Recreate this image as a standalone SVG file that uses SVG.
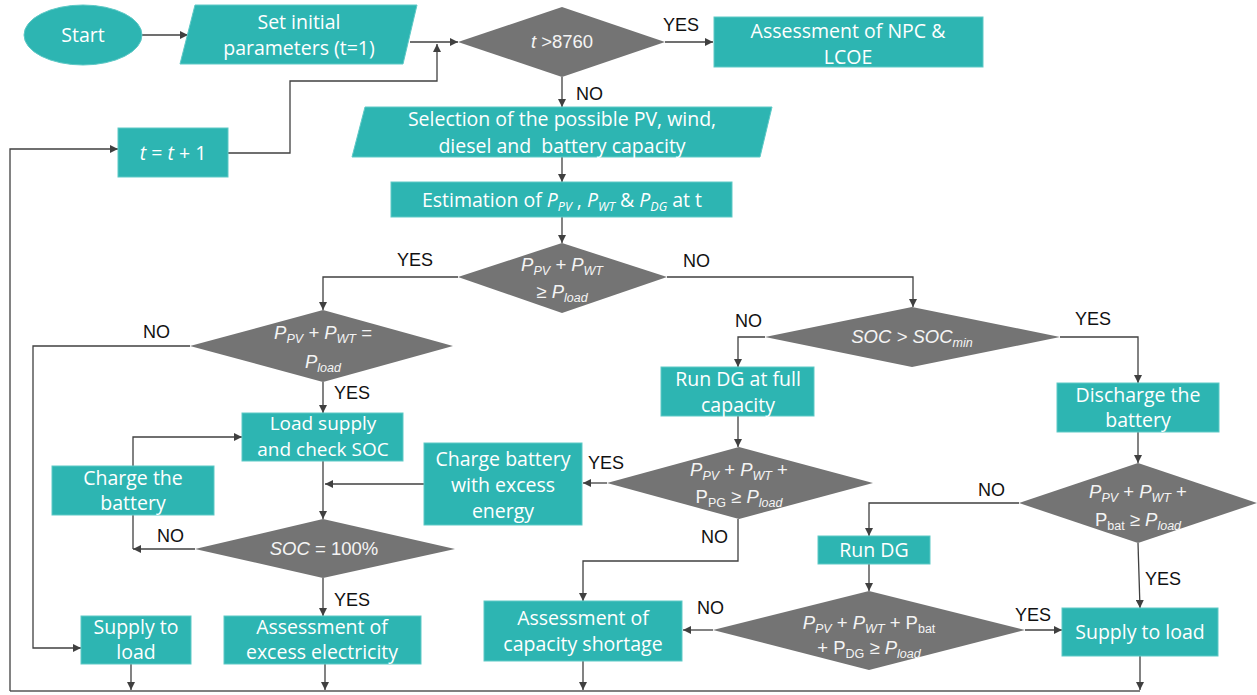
<svg xmlns="http://www.w3.org/2000/svg" width="1257" height="695" viewBox="0 0 1257 695">
<style>
.box{fill:#2db5b2;stroke:#5ec9c6;stroke-width:1}
.dia{fill:#747474}
.bt{font-family:"Open Sans","Liberation Sans",sans-serif;font-size:19.5px;fill:#fff;text-anchor:middle}
.dt{font-family:"Liberation Sans",Arial,sans-serif;font-size:18.5px;fill:#f4f4f4;text-anchor:middle}
.lb{font-family:"Liberation Sans",Arial,sans-serif;font-size:18px;fill:#111}
.i{font-style:italic}
.s{font-size:12.5px}
.c{fill:none;stroke:#404040;stroke-width:1.3}
.a{marker-end:url(#arr)}
.bl{fill:none;stroke:#808080;stroke-width:2}
</style>
<defs>
<marker id="arr" viewBox="0 0 10 10" refX="10" refY="5" markerWidth="9" markerHeight="8" markerUnits="userSpaceOnUse" orient="auto">
<path d="M0,0 L10,5 L0,10 z" fill="#404040"/>
</marker>
</defs>

<g id="connectors">
<path class="c a" d="M142,35 H188"/>
<path class="c a" d="M410,42 H458"/>
<path class="c a" d="M228,153 H290 V81 H437 V44"/>
<path class="c a" d="M665,42 H713"/>
<path class="c a" d="M562,77 V107"/>
<path class="c a" d="M562,157 V182"/>
<path class="c a" d="M562,217 V243"/>
<path class="c a" d="M458,277 H323 V310"/>
<path class="c a" d="M667,277 H913 V307"/>
<path class="c a" d="M190,346 H33 V648 H81"/>
<path class="c a" d="M323,382 V413"/>
<path class="c a" d="M323,461 V519"/>
<path class="c a" d="M424,484 H325"/>
<path class="c a" d="M195,549 H133"/>
<path class="c" d="M133,515 V549"/>
<path class="c a" d="M133,466 V437 H242"/>
<path class="c a" d="M323,578 V616"/>
<path class="c a" d="M131,664 V690"/>
<path class="c a" d="M325,664 V690"/>
<path class="c a" d="M765,337 H738 V367"/>
<path class="c a" d="M1060,337 H1138 V383"/>
<path class="c a" d="M738,416 V447"/>
<path class="c a" d="M607,483 H583"/>
<path class="c a" d="M738,519 V561 H583 V601"/>
<path class="c a" d="M1138,432 V463"/>
<path class="c a" d="M1019,503 H869 V536"/>
<path class="c a" d="M1138,543 L1140,608"/>
<path class="c a" d="M869,564 V591"/>
<path class="c a" d="M713,630 H683"/>
<path class="c a" d="M1025,630 H1062"/>
<path class="c a" d="M583,661 V690"/>
<path class="c a" d="M1140,656 V690"/>
<path class="bl" d="M1140,691 H10"/>
<path class="c a" d="M10,691 V149 H118"/>
<text class="lb" x="663" y="31">YES</text>
<text class="lb" x="576" y="100">NO</text>
<text class="lb" x="397" y="266">YES</text>
<text class="lb" x="683" y="267">NO</text>
<text class="lb" x="143" y="338">NO</text>
<text class="lb" x="334" y="399">YES</text>
<text class="lb" x="735" y="327">NO</text>
<text class="lb" x="1075" y="325">YES</text>
<text class="lb" x="588" y="469">YES</text>
<text class="lb" x="157" y="542">NO</text>
<text class="lb" x="334" y="606">YES</text>
<text class="lb" x="701" y="543">NO</text>
<text class="lb" x="978" y="496">NO</text>
<text class="lb" x="1145" y="585">YES</text>
<text class="lb" x="697" y="614">NO</text>
<text class="lb" x="1015" y="621">YES</text>
</g>

<g id="start"><ellipse class="box" cx="83" cy="35" rx="59" ry="30"/><text class="bt" x="83" y="42">Start</text></g>
<g id="init"><polygon class="box" points="195,5 417,5 403,64 180,64"/><text class="bt" x="299" y="29">Set initial</text><text class="bt" x="299" y="55">parameters (t=1)</text></g>
<g id="tinc"><rect class="box" x="118" y="128" width="110" height="49"/><text class="bt" x="173" y="160"><tspan class="i">t</tspan> = <tspan class="i">t</tspan> + 1</text></g>
<g id="d_time"><polygon class="dia" points="458,42 562,7 665,42 562,77"/><text class="dt" x="562" y="48"><tspan class="i">t</tspan> &gt;8760</text></g>
<g id="npc"><rect class="box" x="714" y="17" width="269" height="50"/><text class="bt" x="848" y="38">Assessment of NPC &amp;</text><text class="bt" x="848" y="64">LCOE</text></g>
<g id="selection"><polygon class="box" points="365,107 772,107 760,157 352,157"/><text class="bt" x="562" y="126">Selection of the possible PV, wind,</text><text class="bt" x="562" y="153">diesel and&#160; battery capacity</text></g>
<g id="estimation"><rect class="box" x="391" y="182" width="341" height="35"/><text class="bt" x="562" y="207">Estimation of <tspan class="i">P</tspan><tspan class="i s" dy="4">PV</tspan><tspan dy="-4"> , </tspan><tspan class="i">P</tspan><tspan class="i s" dy="4">WT</tspan><tspan dy="-4"> &amp; </tspan><tspan class="i">P</tspan><tspan class="i s" dy="4">DG</tspan><tspan dy="-4"> at t</tspan></text></g>
<g id="d_ge"><polygon class="dia" points="458,277 562,243 667,277 562,313"/><text class="dt i" x="562" y="271">P<tspan class="s" dy="4">PV</tspan><tspan dy="-4"> + P</tspan><tspan class="s" dy="4">WT</tspan></text><text class="dt i" x="562" y="298">≥ P<tspan class="s" dy="4">load</tspan></text></g>
<g id="d_eq"><polygon class="dia" points="190,346 323,310 453,346 323,382"/><text class="dt i" x="323" y="339">P<tspan class="s" dy="4">PV</tspan><tspan dy="-4"> + P</tspan><tspan class="s" dy="4">WT</tspan><tspan dy="-4"> =</tspan></text><text class="dt i" x="323" y="368">P<tspan class="s" dy="4">load</tspan></text></g>
<g id="loadsupply"><rect class="box" x="242" y="413" width="161" height="48"/><text class="bt" x="323" y="430" style="font-size:19px">Load supply</text><text class="bt" x="323" y="456" style="font-size:19px">and check SOC</text></g>
<g id="charge"><rect class="box" x="52" y="466" width="162" height="49"/><text class="bt" x="133" y="485">Charge the</text><text class="bt" x="133" y="510">battery</text></g>
<g id="d_soc100"><polygon class="dia" points="195,549 323,519 455,549 323,578"/><text class="dt" x="324" y="555"><tspan class="i">SOC</tspan> = 100%</text></g>
<g id="supply1"><rect class="box" x="81" y="616" width="110" height="48"/><text class="bt" x="136" y="634">Supply to</text><text class="bt" x="136" y="659">load</text></g>
<g id="excess"><rect class="box" x="224" y="616" width="197" height="48"/><text class="bt" x="322" y="634">Assessment of</text><text class="bt" x="322" y="659">excess electricity</text></g>
<g id="chargeexcess"><rect class="box" x="424" y="443" width="158" height="82"/><text class="bt" x="503" y="466">Charge battery</text><text class="bt" x="503" y="492">with excess</text><text class="bt" x="503" y="518">energy</text></g>
<g id="d_socmin"><polygon class="dia" points="765,337 912,307 1060,337 912,367"/><text class="dt i" x="912" y="343">SOC &gt; SOC<tspan class="s" dy="4">min</tspan></text></g>
<g id="rundgfull"><rect class="box" x="661" y="367" width="153" height="49"/><text class="bt" x="738" y="386">Run DG at full</text><text class="bt" x="738" y="412">capacity</text></g>
<g id="d_pg"><polygon class="dia" points="607,483 739,447 873,483 739,519"/><text class="dt" x="739" y="476"><tspan class="i">P</tspan><tspan class="i s" dy="4">PV</tspan><tspan dy="-4"> + </tspan><tspan class="i">P</tspan><tspan class="i s" dy="4">WT</tspan><tspan dy="-4"> +</tspan></text><text class="dt" x="739" y="503">P<tspan class="s" dy="4">PG</tspan><tspan dy="-4"> ≥ </tspan><tspan class="i">P</tspan><tspan class="i s" dy="4">load</tspan></text></g>
<g id="discharge"><rect class="box" x="1057" y="383" width="162" height="49"/><text class="bt" x="1138" y="402">Discharge the</text><text class="bt" x="1138" y="427">battery</text></g>
<g id="d_bat"><polygon class="dia" points="1019,503 1138,463 1257,503 1138,543"/><text class="dt" x="1138" y="498"><tspan class="i">P</tspan><tspan class="i s" dy="4">PV</tspan><tspan dy="-4"> + </tspan><tspan class="i">P</tspan><tspan class="i s" dy="4">WT</tspan><tspan dy="-4"> +</tspan></text><text class="dt" x="1138" y="526">P<tspan class="s" dy="4">bat</tspan><tspan dy="-4"> ≥ </tspan><tspan class="i">P</tspan><tspan class="i s" dy="4">load</tspan></text></g>
<g id="rundg"><rect class="box" x="818" y="536" width="112" height="28"/><text class="bt" x="874" y="557">Run DG</text></g>
<g id="d_dg"><polygon class="dia" points="713,630 869,591 1025,630 869,670"/><text class="dt" x="869" y="629"><tspan class="i">P</tspan><tspan class="i s" dy="4">PV</tspan><tspan dy="-4"> + </tspan><tspan class="i">P</tspan><tspan class="i s" dy="4">WT</tspan><tspan dy="-4"> + P</tspan><tspan class="s" dy="4">bat</tspan></text><text class="dt" x="869" y="654">+ P<tspan class="s" dy="4">DG</tspan><tspan dy="-4"> ≥ </tspan><tspan class="i">P</tspan><tspan class="i s" dy="4">load</tspan></text></g>
<g id="shortage"><rect class="box" x="484" y="601" width="198" height="60"/><text class="bt" x="583" y="625">Assessment of</text><text class="bt" x="583" y="651">capacity shortage</text></g>
<g id="supply2"><rect class="box" x="1062" y="608" width="156" height="48"/><text class="bt" x="1140" y="639">Supply to load</text></g>
</svg>
